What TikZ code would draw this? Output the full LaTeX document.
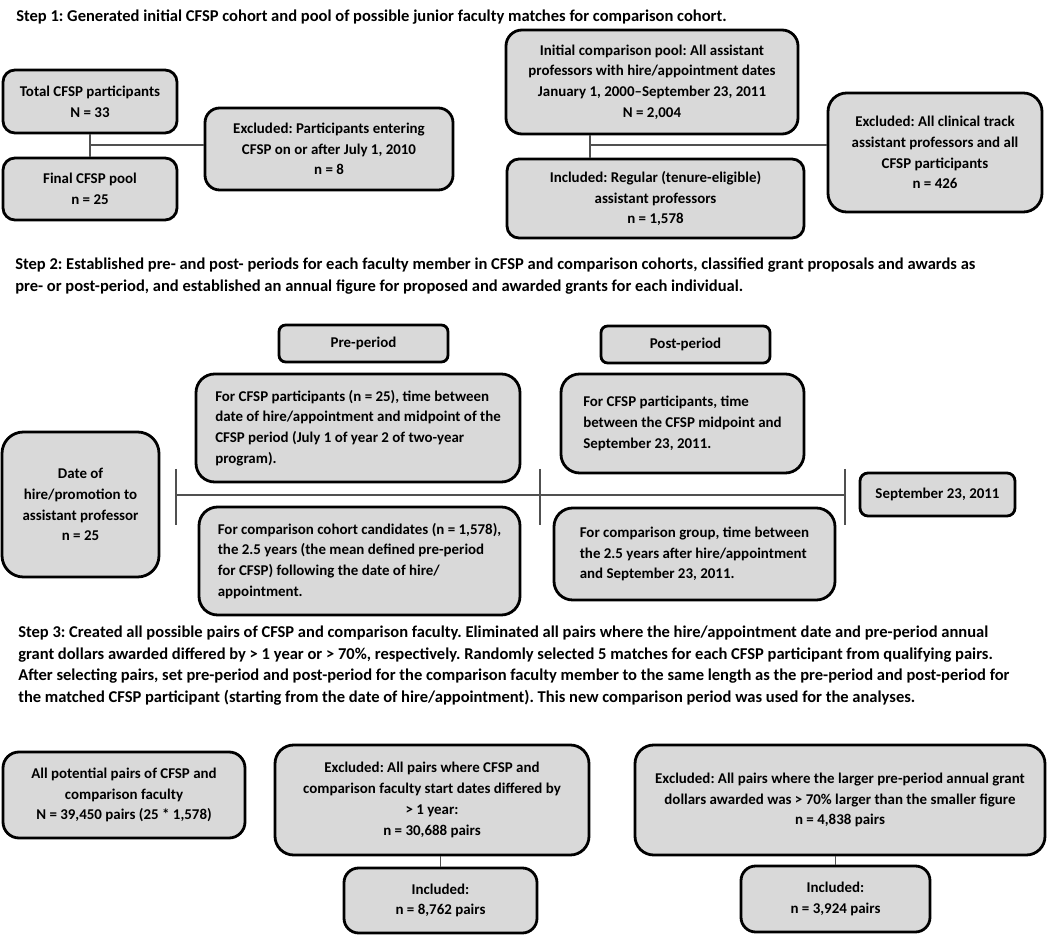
\documentclass[tikz,border=0pt]{standalone}
\usepackage{fontspec}
\setmainfont{Carlito}
\frenchspacing

\definecolor{boxgray}{RGB}{217,217,217}
\definecolor{linegray}{RGB}{80,80,80}
\newcommand{\boxfont}{\fontsize{11.2}{15.6}\selectfont\bfseries}
\newcommand{\stepfont}{\fontsize{12.4}{16.3}\selectfont\bfseries}

\tikzset{
  box/.style={draw=black, line width=2.1pt, fill=boxgray, rounded corners=9pt,
    align=center, inner sep=0pt, font=\boxfont},
  boxsize/.style 2 args={minimum width=#1*0.75pt, minimum height=#2*0.75pt},
  link/.style={draw=linegray, line width=0.8pt},
  steptext/.style={align=left, inner sep=0pt, anchor=west, font=\stepfont},
}

\begin{document}
\begin{tikzpicture}[x=0.75pt, y=-0.75pt]
        \useasboundingbox (0,0) rectangle (1050,937);

        % step 1
        \node[steptext] (step1) at (16,17)
            {Step 1: Generated initial CFSP cohort and pool of possible junior faculty matches for comparison cohort.};

        \node[box, boxsize={174}{63}] (total) at (90,101.5) {Total CFSP participants\\N = 33};
        \node[box, boxsize={174}{62}] (final) at (90,189) {Final CFSP pool\\n = 25};
        \node[box, boxsize={248}{82}, rounded corners=11pt] (excl8) at (329,149)
            {Excluded: Participants entering\\CFSP on or after July 1, 2010\\n = 8};

        \node[box, boxsize={292}{104}, rounded corners=12pt] (initpool) at (652,82)
            {Initial comparison pool: All assistant\\professors with hire/appointment dates\\January 1, 2000–September 23, 2011\\N = 2,004};
        \node[box, boxsize={297}{79}] (incl1578) at (655.5,198.5)
            {Included: Regular (tenure-eligible)\\assistant professors\\n = 1,578};
        \node[box, boxsize={214}{119}, rounded corners=14pt] (excl426) at (935,152.5)
            {Excluded: All clinical track\\assistant professors and all\\CFSP participants\\n = 426};

        \coordinate (j1) at (90,145);
        \coordinate (j2) at (590,145);
        \draw[link] (total) -- (final);
        \draw[link] (j1) -- (j1 -| excl8.west);
        \draw[link] (initpool.south -| j2) -- (incl1578.north -| j2);
        \draw[link] (j2) -- (j2 -| excl426.west);

        % step 2
        \node[steptext] (step2) at (15,276)
            {Step 2: Established pre- and post- periods for each faculty member in CFSP and comparison cohorts, classified grant proposals and awards as\\
             pre- or post-period, and established an annual figure for proposed and awarded grants for each individual.};

        \node[box, boxsize={169}{37}, rounded corners=5pt] (pre) at (363.5,343.5) {Pre-period};
        \node[box, boxsize={169}{37}, rounded corners=5pt] (post) at (685.5,344.5) {Post-period};

        \node[box, boxsize={324}{108}, rounded corners=14pt, align=left] (precfsp) at (358,428)
            {For CFSP participants (n = 25), time between\\date of hire/appointment and midpoint of the\\CFSP period (July 1 of year 2 of two-year\\program).};
        \node[box, boxsize={243}{99}, rounded corners=14pt, align=left] (postcfsp) at (682.5,423.5)
            {For CFSP participants, time\\between the CFSP midpoint and\\September 23, 2011.};
        \node[box, boxsize={157}{145}, rounded corners=16pt] (hire) at (80.5,504.5)
            {Date of\\hire/promotion to\\assistant professor\\n = 25};
        \node[box, boxsize={155}{43}, rounded corners=6pt] (sept) at (937.5,494.5) {September 23, 2011};
        \node[box, boxsize={321}{108}, rounded corners=14pt, align=left] (precomp) at (359.5,561)
            {For comparison cohort candidates (n = 1,578),\\the 2.5 years (the mean defined pre-period\\for CFSP) following the date of hire/\\appointment.};
        \node[box, boxsize={281}{92}, rounded corners=14pt, align=left] (postcomp) at (694.5,554)
            {For comparison group, time between\\the 2.5 years after hire/appointment\\and September 23, 2011.};

        \coordinate (t0) at (176,495);
        \coordinate (t1) at (540,495);
        \coordinate (t2) at (845,495);
        \draw[link] (t0) -- (t2);
        \foreach \t in {t0,t1,t2}
            \draw[link] (\t) ++(0,-26) -- ++(0,56);

        % step 3
        \node[steptext] (step3) at (18,665.5)
            {Step 3: Created all possible pairs of CFSP and comparison faculty. Eliminated all pairs where the hire/appointment date and pre-period annual\\
             grant dollars awarded differed by > 1 year or > 70\%, respectively. Randomly selected 5 matches for each CFSP participant from qualifying pairs.\\
             After selecting pairs, set pre-period and post-period for the comparison faculty member to the same length as the pre-period and post-period for\\
             the matched CFSP participant (starting from the date of hire/appointment). This new comparison period was used for the analyses.};

        \node[box, boxsize={242}{86}, rounded corners=12pt] (allpairs) at (124,795)
            {All potential pairs of CFSP and\\comparison faculty\\N = 39,450 pairs (25 * 1,578)};
        \node[box, boxsize={314}{110}, rounded corners=14pt] (excl30688) at (432,800)
            {Excluded: All pairs where CFSP and\\comparison faculty start dates differed by\\> 1 year:\\n = 30,688 pairs};
        \node[box, boxsize={193}{65}, rounded corners=11pt] (incl8762) at (440.5,900.5)
            {Included:\\n = 8,762 pairs};
        \node[box, boxsize={410}{110}, rounded corners=14pt] (excl4838) at (840,800)
            {Excluded: All pairs where the larger pre-period annual grant\\dollars awarded was > 70\% larger than the smaller figure\\n = 4,838 pairs};
        \node[box, boxsize={189}{66}, rounded corners=11pt] (incl3924) at (835.5,899)
            {Included:\\n = 3,924 pairs};

        \draw[link] (incl8762.north) -- (incl8762.north |- excl30688.south);
        \draw[link] (incl3924.north) -- (incl3924.north |- excl4838.south);
\end{tikzpicture}
\end{document}
